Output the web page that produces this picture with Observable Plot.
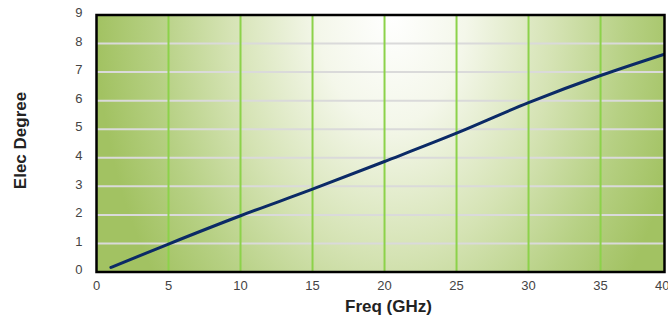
<!DOCTYPE html>
<html>
<head>
<meta charset="utf-8">
<script src="https://cdn.jsdelivr.net/npm/d3@7"></script>
<script src="https://cdn.jsdelivr.net/npm/@observablehq/plot@0.6"></script>
<style>
  html, body { margin: 0; padding: 0; background: #fff; }
  #chart svg { display: block; }
</style>
</head>
<body>
<div id="chart"></div>
<script>
const freq = [1, 5, 10, 15, 20, 25, 30, 35, 40];
const degree = [0.16, 0.98, 1.97, 2.9, 3.87, 4.86, 5.93, 6.88, 7.72];
const xTicks = [0, 5, 10, 15, 20, 25, 30, 35];
const xLastTick = [40];
const yTicks = [0, 1, 2, 3, 4, 5, 6, 7, 8, 9];
const xGrid = [5, 10, 15, 20, 25, 30, 35];
const yGrid = [1, 2, 3, 4, 5, 6, 7, 8];
const xLabel = "Freq (GHz)";
const yLabel = "Elec Degree";

const data = freq.map((f, i) => ({freq: f, degree: degree[i]}));

const chart = Plot.plot({
  width: 668,
  height: 318,
  marginLeft: 96,
  marginRight: 4,
  marginTop: 14.5,
  marginBottom: 46.5,
  style: {fontFamily: "'Liberation Sans', Arial, Helvetica, sans-serif", background: "#fff"},
  x: {domain: [0, 39.44]},
  y: {domain: [0, 9]},
  marks: [
    Plot.frame({fill: "url(#bg)"}),
    Plot.gridY(yGrid, {stroke: "#dadada", strokeOpacity: 1, strokeWidth: 2}),
    Plot.gridX(xGrid, {stroke: "#8cd24a", strokeOpacity: 1, strokeWidth: 2}),
    Plot.line(data, {x: "freq", y: "degree", stroke: "#0b2a66", strokeWidth: 3, curve: "monotone-x", clip: true}),
    Plot.frame({stroke: "#000", strokeWidth: 2.5}),
    Plot.axisX(xTicks, {tickSize: 0, tickPadding: 9, label: null, fontSize: 13, color: "#444"}),
    Plot.axisX(xLastTick, {tickSize: 0, tickPadding: 9, label: null, fontSize: 13, color: "#444", textAnchor: "end", dx: -3}),
    Plot.axisY(yTicks, {tickSize: 0, tickPadding: 14, label: null, fontSize: 13, color: "#444", dy: -2}),
    Plot.text([xLabel], {text: d => d, frameAnchor: "bottom", textAnchor: "middle", lineAnchor: "middle", dy: 35, dx: 8, fontSize: 17, fontWeight: "bold", fill: "#222", ariaLabel: "xlabel"}),
    Plot.text([yLabel], {text: d => d, frameAnchor: "left", textAnchor: "middle", lineAnchor: "middle", rotate: -90, dx: -76, dy: -3, fontSize: 17, fontWeight: "bold", fill: "#222", ariaLabel: "ylabel"})
  ]
});

const svg = d3.select(chart);
svg.selectAll('g[aria-label="xlabel"] text').attr("letter-spacing", "1px");
svg.selectAll('g[aria-label="ylabel"] text').attr("letter-spacing", "1.8px");
const defs = svg.insert("defs", ":first-child");
const g = defs.append("radialGradient")
  .attr("id", "bg")
  .attr("cx", 0.52).attr("cy", 0).attr("r", 1)
  .attr("gradientTransform", "translate(0.52 0) scale(0.52 1.7) translate(-0.52 0)");
[[0, "#ffffff"], [0.25, "#f4f7ea"], [0.55, "#d5e3b4"], [0.8, "#b6d083"], [1, "#a2c262"]]
  .forEach(([o, c]) => g.append("stop").attr("offset", o).attr("stop-color", c));

document.getElementById("chart").appendChild(chart);
</script>
</body>
</html>
